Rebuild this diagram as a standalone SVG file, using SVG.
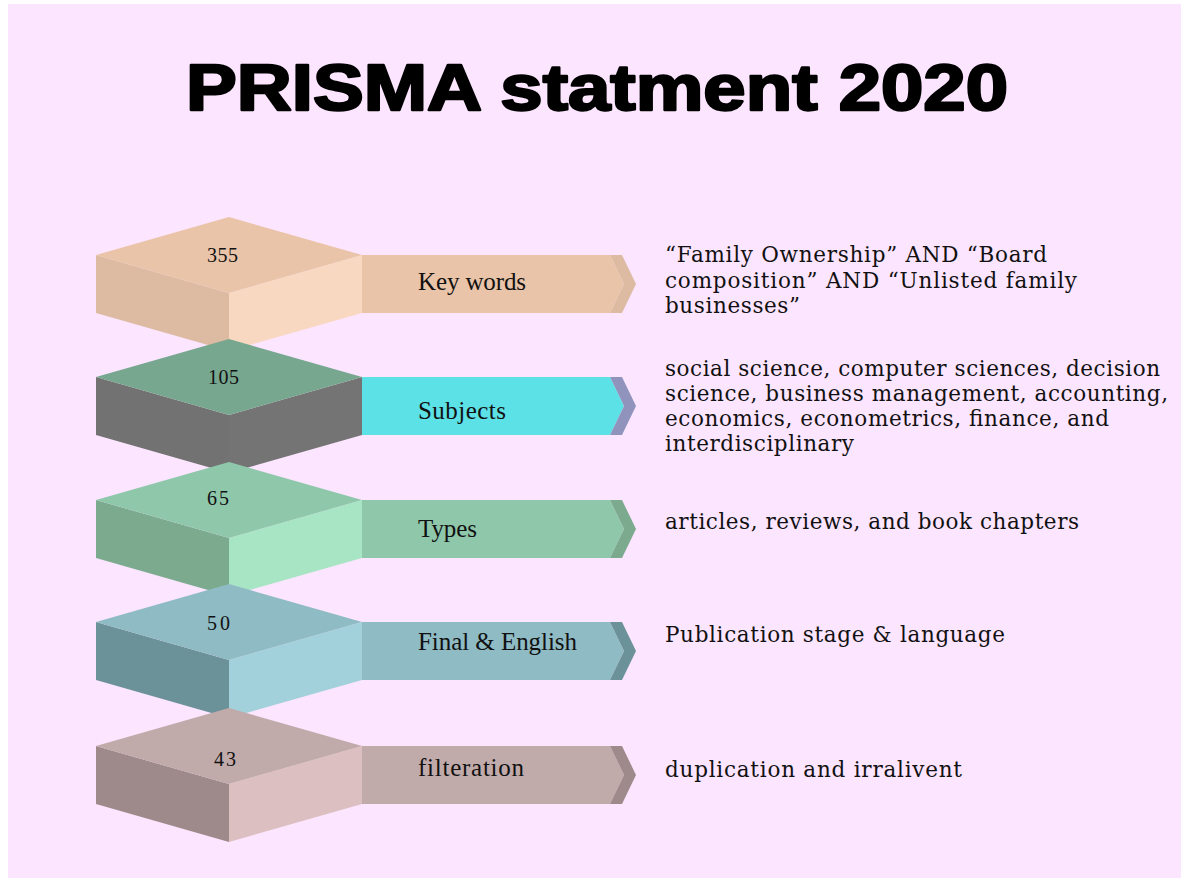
<svg xmlns="http://www.w3.org/2000/svg" width="1181" height="881" viewBox="0 0 1181 881">
<style>
.num{font-family:"Liberation Serif","DejaVu Serif",serif;font-size:20px;fill:#111}
.lbl{font-family:"Liberation Serif","DejaVu Serif",serif;font-size:25px;fill:#111}
.desc{font-family:"DejaVu Serif","Liberation Serif",serif;font-size:21.5px;fill:#111}
.title{font-family:"Liberation Sans","Arial",sans-serif;font-weight:bold;font-size:64px;fill:#000;stroke:#000;stroke-width:2.4;stroke-linejoin:round}
</style>
<rect x="0" y="0" width="1181" height="881" fill="#ffffff"/>
<rect x="8" y="4" width="1173" height="874" fill="#fce5fe"/>
<text class="title" x="186" y="110" textLength="822" lengthAdjust="spacingAndGlyphs">PRISMA statment 2020</text>

<g id="node-keywords">
<polygon points="96,255 229,293 229,351 96,313" fill="#ddbba3"/>
<polygon points="229,293 362,255 362,313 229,351" fill="#f9d8c2"/>
<polygon points="229,217 362,255 229,293 96,255" fill="#eac4a8"/>
<polygon points="362,255 610,255 624,284 610,313 362,313" fill="#eac4a8"/>
<polygon points="610,255 622,255 636,284 622,313 610,313 624,284" fill="#ddbba3"/>
<text class="num" x="207" y="262" textLength="31">355</text>
<text class="lbl" x="418" y="290" textLength="108">Key words</text>
<g class="desc">
<text x="665" y="262" textLength="382">“Family Ownership” AND “Board</text>
<text x="665" y="288" textLength="412">composition” AND “Unlisted family</text>
<text x="665" y="313" textLength="135">businesses”</text>
</g>
</g>

<g id="node-subjects">
<polygon points="96,377 229,415 229,473 96,435" fill="#727272"/>
<polygon points="229,415 362,377 362,435 229,473" fill="#747474"/>
<polygon points="229,339 362,377 229,415 96,377" fill="#77a78f"/>
<polygon points="362,377 610,377 624,406 610,435 362,435" fill="#5ce1e6"/>
<polygon points="610,377 622,377 636,406 622,435 610,435 624,406" fill="#9094bd"/>
<text class="num" x="208" y="384" textLength="31">105</text>
<text class="lbl" x="418" y="419" textLength="88">Subjects</text>
<g class="desc">
<text x="665" y="376" textLength="495">social science, computer sciences, decision</text>
<text x="665" y="401" textLength="503">science, business management, accounting,</text>
<text x="665" y="426" textLength="444">economics, econometrics, finance, and</text>
<text x="665" y="451" textLength="189">interdisciplinary</text>
</g>
</g>

<g id="node-types">
<polygon points="96,500 229,538 229,596 96,558" fill="#7baa8e"/>
<polygon points="229,538 362,500 362,558 229,596" fill="#a8e5c4"/>
<polygon points="229,462 362,500 229,538 96,500" fill="#8fc7ab"/>
<polygon points="362,500 610,500 624,529 610,558 362,558" fill="#8fc7ab"/>
<polygon points="610,500 622,500 636,529 622,558 610,558 624,529" fill="#7baa8e"/>
<text class="num" x="207" y="505" textLength="22">65</text>
<text class="lbl" x="418" y="537" textLength="59">Types</text>
<text class="desc" x="665" y="529" textLength="414">articles, reviews, and book chapters</text>
</g>

<g id="node-final-english">
<polygon points="96,622 229,660 229,718 96,680" fill="#6c9299"/>
<polygon points="229,660 362,622 362,680 229,718" fill="#a2d1db"/>
<polygon points="229,584 362,622 229,660 96,622" fill="#8fbbc4"/>
<polygon points="362,622 610,622 624,651 610,680 362,680" fill="#8fbbc4"/>
<polygon points="610,622 622,622 636,651 622,680 610,680 624,651" fill="#6c9299"/>
<text class="num" x="207" y="630" textLength="23">50</text>
<text class="lbl" x="418" y="650" textLength="159">Final &amp; English</text>
<text class="desc" x="665" y="642" textLength="340">Publication stage &amp; language</text>
</g>

<g id="node-filteration">
<polygon points="96,746 229,784 229,842 96,804" fill="#9e8a8b"/>
<polygon points="229,784 362,746 362,804 229,842" fill="#dcbfc0"/>
<polygon points="229,708 362,746 229,784 96,746" fill="#c1aaaa"/>
<polygon points="362,746 610,746 624,775 610,804 362,804" fill="#c1aaaa"/>
<polygon points="610,746 622,746 636,775 622,804 610,804 624,775" fill="#9e8a8b"/>
<text class="num" x="214" y="766" textLength="22">43</text>
<text class="lbl" x="418" y="776" textLength="106">filteration</text>
<text class="desc" x="665" y="777" textLength="297">duplication and irralivent</text>
</g>
</svg>
